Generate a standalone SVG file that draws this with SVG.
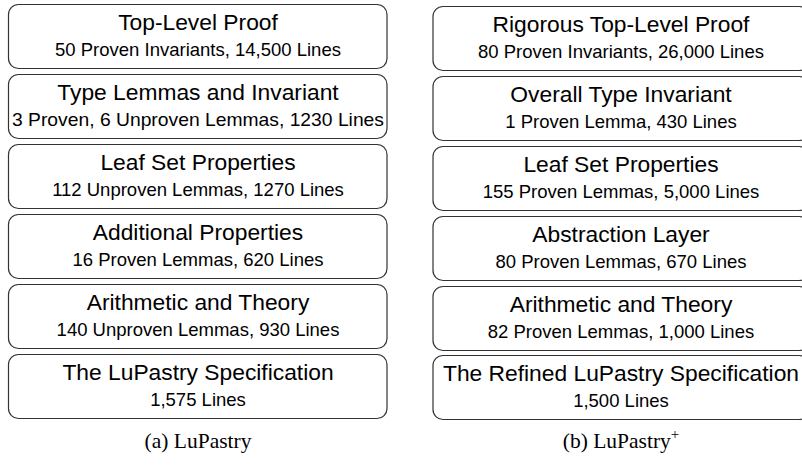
<svg xmlns="http://www.w3.org/2000/svg" width="802" height="466" viewBox="0 0 802 466">
<style>
.box{fill:#fff;stroke:#333;stroke-width:1.2}
.t{font-family:"Liberation Sans",Arial,sans-serif;font-size:22.8px;fill:#000;text-anchor:middle}
.s{font-family:"Liberation Sans",Arial,sans-serif;font-size:18.5px;fill:#000;text-anchor:middle}
.cap{font-family:"Liberation Serif","Times New Roman",serif;font-size:21.5px;fill:#000;text-anchor:middle}
</style>
<rect width="802" height="466" fill="#fff"/>
<g id="connectors"></g>
<g id="left">
<g id="a1"><rect class="box" x="8.5" y="4.5" width="378.5" height="64" rx="10"/><text class="t" x="198" y="29.5">Top-Level Proof</text><text class="s" x="198" y="55.5">50 Proven Invariants, 14,500 Lines</text></g>
<g id="a2"><rect class="box" x="8.5" y="74.5" width="378.5" height="64" rx="10"/><text class="t" x="198" y="99.5">Type Lemmas and Invariant</text><text class="s" x="198" y="125.5" textLength="372" lengthAdjust="spacingAndGlyphs">3 Proven, 6 Unproven Lemmas, 1230 Lines</text></g>
<g id="a3"><rect class="box" x="8.5" y="144.5" width="378.5" height="64" rx="10"/><text class="t" x="198" y="169.5">Leaf Set Properties</text><text class="s" x="198" y="195.5">112 Unproven Lemmas, 1270 Lines</text></g>
<g id="a4"><rect class="box" x="8.5" y="214.5" width="378.5" height="64" rx="10"/><text class="t" x="198" y="239.5">Additional Properties</text><text class="s" x="198" y="265.5">16 Proven Lemmas, 620 Lines</text></g>
<g id="a5"><rect class="box" x="8.5" y="284.5" width="378.5" height="64" rx="10"/><text class="t" x="198" y="309.5">Arithmetic and Theory</text><text class="s" x="198" y="335.5">140 Unproven Lemmas, 930 Lines</text></g>
<g id="a6"><rect class="box" x="8.5" y="354.5" width="378.5" height="64" rx="10"/><text class="t" x="198" y="379.5">The LuPastry Specification</text><text class="s" x="198" y="405.5">1,575 Lines</text></g>
<text class="cap" x="198" y="448">(a) LuPastry</text>
</g>
<g id="right">
<g id="b1"><rect class="box" x="433" y="6.5" width="376" height="64" rx="10"/><text class="t" x="621" y="31.5">Rigorous Top-Level Proof</text><text class="s" x="621" y="57.5">80 Proven Invariants, 26,000 Lines</text></g>
<g id="b2"><rect class="box" x="433" y="76.5" width="376" height="64" rx="10"/><text class="t" x="621" y="101.5">Overall Type Invariant</text><text class="s" x="621" y="127.5">1 Proven Lemma, 430 Lines</text></g>
<g id="b3"><rect class="box" x="433" y="146.5" width="376" height="64" rx="10"/><text class="t" x="621" y="171.5">Leaf Set Properties</text><text class="s" x="621" y="197.5">155 Proven Lemmas, 5,000 Lines</text></g>
<g id="b4"><rect class="box" x="433" y="216.5" width="376" height="64" rx="10"/><text class="t" x="621" y="241.5">Abstraction Layer</text><text class="s" x="621" y="267.5">80 Proven Lemmas, 670 Lines</text></g>
<g id="b5"><rect class="box" x="433" y="286.5" width="376" height="64" rx="10"/><text class="t" x="621" y="311.5">Arithmetic and Theory</text><text class="s" x="621" y="337.5">82 Proven Lemmas, 1,000 Lines</text></g>
<g id="b6"><rect class="box" x="433" y="355.5" width="376" height="64" rx="10"/><text class="t" x="621" y="380.5">The Refined LuPastry Specification</text><text class="s" x="621" y="406.5">1,500 Lines</text></g>
<text class="cap" x="621" y="448">(b) LuPastry<tspan dy="-9" font-size="15">+</tspan></text>
</g>
</svg>
